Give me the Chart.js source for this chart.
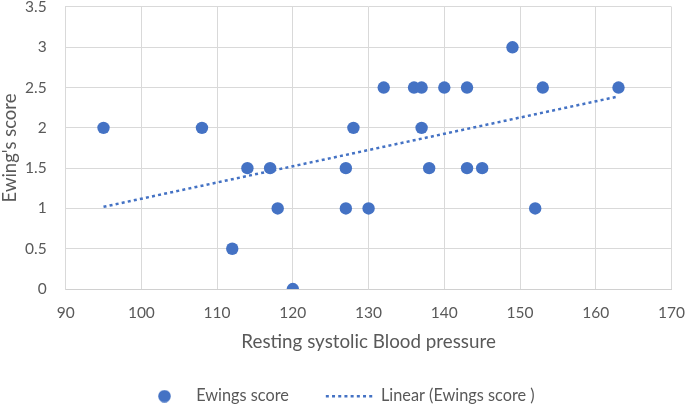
<!DOCTYPE html>
<html>
<head>
<meta charset="utf-8">
<script src="https://cdn.jsdelivr.net/npm/chart.js@4/dist/chart.umd.min.js"></script>
<style>
  html, body { margin: 0; padding: 0; background: #ffffff; }
  #wrap { width: 685px; height: 406px; }
</style>
</head>
<body>
<div id="wrap"><canvas id="ewingChart"></canvas></div>
<script>
// resting systolic blood pressure vs Ewing's score
const bloodPressure = [95, 108, 112, 114, 117, 118, 120, 127, 127, 128, 130, 132, 136, 137, 137, 138, 140, 143, 143, 145, 149, 152, 153, 163];
const ewingScore    = [2, 2, 0.5, 1.5, 1.5, 1, 0, 1.5, 1, 2, 1, 2.5, 2.5, 2.5, 2, 1.5, 2.5, 2.5, 1.5, 1.5, 3, 1, 2.5, 2.5];

// trendline end points
const trendX = [95, 163];
const trendY = [1.02, 2.39];

const seriesNames = ['Ewings score', 'Linear (Ewings score )'];

document.addEventListener('DOMContentLoaded', function() {
    const ctx = document.getElementById('ewingChart').getContext('2d');
    const blue = '#4472C4';
    const textGray = '#595959';
    const fontName = "Lato, 'Open Sans', sans-serif";

    // small round marker for the legend
    const dot = document.createElement('canvas');
    dot.width = 13;
    dot.height = 13;
    const dctx = dot.getContext('2d');
    dctx.fillStyle = blue;
    dctx.beginPath();
    dctx.arc(6.5, 6.5, 6.3, 0, Math.PI * 2);
    dctx.fill();

    const points = bloodPressure.map((x, i) => ({ x: x, y: ewingScore[i] }));
    const trend = trendX.map((x, i) => ({ x: x, y: trendY[i] }));

    // legend sits left of centre and a bit lower in the original
    const legendShift = {
        id: 'legendShift',
        afterLayout(chart) {
            chart.legend.left = 104;
            chart.legend.top -= 2;
        }
    };

    new Chart(ctx, {
        type: 'scatter',
        data: {
            datasets: [
                {
                    label: seriesNames[0],
                    data: points,
                    backgroundColor: blue,
                    borderColor: blue,
                    pointRadius: 6.2,
                    pointHoverRadius: 6.2,
                    borderWidth: 0
                },
                {
                    type: 'line',
                    label: seriesNames[1],
                    data: trend,
                    showLine: true,
                    borderColor: blue,
                    borderWidth: 2.5,
                    borderDash: [3, 3.2],
                    pointRadius: 0,
                    fill: false
                }
            ]
        },
        options: {
            responsive: true,
            maintainAspectRatio: false,
            animation: false,
            layout: {
                padding: { top: 0, right: 0, bottom: 0, left: 0 }
            },
            scales: {
                x: {
                    type: 'linear',
                    min: 90,
                    max: 170,
                    ticks: {
                        stepSize: 10,
                        color: textGray,
                        padding: 0,
                        font: { family: fontName, size: 15.5 }
                    },
                    grid: {
                        color: '#d9d9d9',
                        lineWidth: 1,
                        tickLength: 15,
                        tickColor: 'rgba(0,0,0,0)'
                    },
                    border: { color: '#d0d0d0', width: 1 },
                    title: {
                        display: true,
                        text: 'Resting systolic Blood pressure',
                        color: textGray,
                        padding: { top: 7.8, bottom: 0 },
                        font: { family: fontName, size: 18.8 }
                    }
                },
                y: {
                    min: 0,
                    max: 3.5,
                    ticks: {
                        stepSize: 0.5,
                        color: textGray,
                        padding: 0,
                        font: { family: fontName, size: 15.5, lineHeight: 0.9 },
                        callback: function(value) {
                            return String(value);
                        }
                    },
                    grid: {
                        color: '#d9d9d9',
                        lineWidth: 1,
                        tickLength: 19,
                        tickColor: 'rgba(0,0,0,0)'
                    },
                    border: { color: '#d9d9d9', width: 1 },
                    title: {
                        display: true,
                        text: "Ewing's score",
                        color: textGray,
                        padding: { top: -1, bottom: 3.8 },
                        font: { family: fontName, size: 18.5 }
                    }
                }
            },
            plugins: {
                legend: {
                    position: 'bottom',
                    align: 'start',
                    maxHeight: 53,
                    labels: {
                        usePointStyle: true,
                        pointStyleWidth: 47,
                        padding: 37,
                        color: textGray,
                        font: { family: fontName, size: 16.3 },
                        generateLabels: function() {
                            return [
                                {
                                    text: seriesNames[0],
                                    fillStyle: blue,
                                    strokeStyle: blue,
                                    lineWidth: 0,
                                    pointStyle: dot,
                                    hidden: false,
                                    datasetIndex: 0,
                                    fontColor: textGray
                                },
                                {
                                    text: seriesNames[1],
                                    fillStyle: blue,
                                    strokeStyle: blue,
                                    lineWidth: 2.5,
                                    lineDash: [3, 3.2],
                                    pointStyle: 'line',
                                    hidden: false,
                                    datasetIndex: 1,
                                    fontColor: textGray
                                }
                            ];
                        }
                    }
                },
                tooltip: { enabled: false }
            }
        },
        plugins: [legendShift]
    });
});
</script>
</body>
</html>
